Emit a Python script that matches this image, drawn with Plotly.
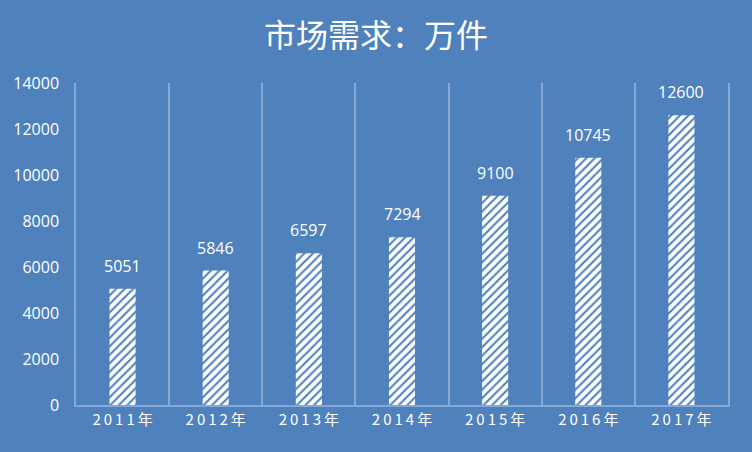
import plotly.graph_objects as go

# 市场需求数据（单位：万件）
years = ["2011年", "2012年", "2013年", "2014年", "2015年", "2016年", "2017年"]
demand = [5051, 5846, 6597, 7294, 9100, 10745, 12600]
y_ticks = [0, 2000, 4000, 6000, 8000, 10000, 12000, 14000]

BG = "#4F81BD"
GRID = "#86A7D3"

# the reference spreads the year labels out a bit
spaced_years = ["\u2009".join(list(y)) for y in years]

fig = go.Figure()
fig.add_trace(go.Bar(
    x=years,
    y=demand,
    width=0.28,
    marker=dict(
        color="white",
        line=dict(width=0),
        pattern=dict(shape="/", fgcolor=BG, bgcolor="white", fgopacity=1,
                     size=6, solidity=0.35),
    ),
    hoverinfo="skip",
))

# value labels sit well above each bar
for yr, val in zip(years, demand):
    fig.add_annotation(
        x=yr, y=val, text=str(val), showarrow=False,
        yshift=23, font=dict(color="white", size=16, family="Open Sans"),
    )

fig.update_layout(
    width=752,
    height=452,
    paper_bgcolor=BG,
    plot_bgcolor=BG,
    margin=dict(l=76, r=24, t=83, b=47),
    showlegend=False,
    title=dict(
        text="市场需求：万件",
        x=0.5,
        xanchor="center",
        y=0.92,
        yanchor="middle",
        font=dict(color="white", size=32, family="Noto Sans CJK SC"),
    ),
    xaxis=dict(
        type="category",
        tickson="boundaries",
        tickvals=years,
        ticktext=spaced_years,
        showgrid=True,
        gridcolor=GRID,
        gridwidth=1.5,
        showline=True,
        linecolor=GRID,
        linewidth=2,
        ticks="",
        tickfont=dict(color="white", size=15, family="Noto Sans CJK SC"),
    ),
    yaxis=dict(
        range=[0, 14000],
        tickvals=y_ticks,
        tickformat="d",
        showgrid=False,
        zeroline=False,
        showline=True,
        mirror=True,
        linecolor=GRID,
        linewidth=1.5,
        ticks="",
        ticklabelstandoff=12,
        tickfont=dict(color="white", size=16, family="Open Sans"),
    ),
)

fig.write_html("out.html", config={"displayModeBar": False},
               post_script="document.body.style.margin='0';")
